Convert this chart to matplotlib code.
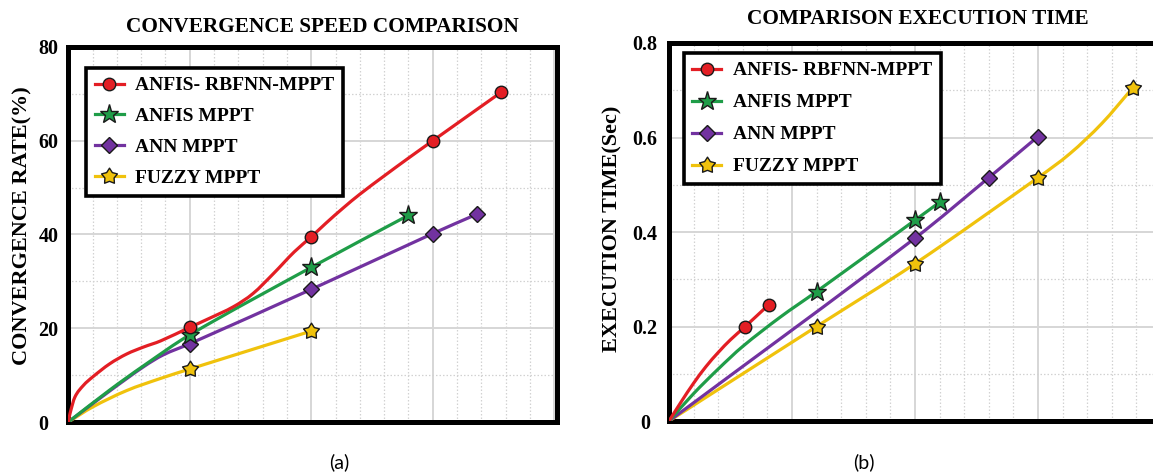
import matplotlib
matplotlib.use("Agg")
import matplotlib.pyplot as plt
from matplotlib.path import Path
from matplotlib.patches import PathPatch
from matplotlib.lines import Line2D
from matplotlib.ticker import MultipleLocator

# ---------------- data ----------------
series_names = ["ANFIS- RBFNN-MPPT", "ANFIS MPPT", "ANN MPPT", "FUZZY MPPT"]

# (a) Convergence speed: curve points and marker indices
conv_red_x = [0, 0.07, 0.27, 0.62, 1.0, 1.7, 2.4, 3.1, 3.8, 5.0, 5.8, 6.8, 7.6, 8.45, 9.3,
              10.0, 10.6, 11.3, 12.0, 13.0, 14.0, 15.0, 17.8]
conv_red_y = [0, 1.8, 5.3, 7.8, 9.6, 12.4, 14.5, 16.0, 17.3, 20.2, 22.1, 24.6, 27.4, 31.7, 36.3,
              39.5, 42.4, 45.6, 48.6, 52.5, 56.3, 60.0, 70.3]
conv_red_mk = [9, 15, 21, 22]

conv_green_x = [0, 1.7, 3.1, 5.0, 10.0, 14.0]
conv_green_y = [0, 6.8, 12.0, 18.6, 33.0, 44.1]
conv_green_mk = [3, 4, 5]

conv_purple_x = [0, 1.7, 3.1, 3.9, 5.0, 10.0, 15.0, 16.8]
conv_purple_y = [0, 6.6, 11.8, 14.3, 16.7, 28.3, 40.2, 44.3]
conv_purple_mk = [4, 5, 6, 7]

conv_yellow_x = [0, 1.0, 2.4, 3.8, 5.0, 10.0]
conv_yellow_y = [0, 3.2, 6.7, 9.3, 11.3, 19.4]
conv_yellow_mk = [4, 5]

# (b) Execution time
exec_red_x = [0, 0.5, 1.0, 1.5, 2.0, 2.5, 3.1, 4.05]
exec_red_y = [0, 0.041, 0.080, 0.115, 0.145, 0.172, 0.200, 0.246]
exec_red_mk = [6, 7]

exec_green_x = [0, 1.0, 2.0, 3.0, 4.5, 6.0, 10.0, 11.0]
exec_green_y = [0, 0.058, 0.110, 0.158, 0.219, 0.274, 0.425, 0.463]
exec_green_mk = [5, 6, 7]

exec_purple_x = [0, 10.0, 13.0, 15.0]
exec_purple_y = [0, 0.387, 0.515, 0.602]
exec_purple_mk = [1, 2, 3]

exec_yellow_x = [0, 6.0, 10.0, 15.0, 16.3, 17.6, 18.85]
exec_yellow_y = [0, 0.200, 0.333, 0.515, 0.566, 0.630, 0.705]
exec_yellow_mk = [1, 2, 3, 6]

conv_yticks = [0, 20, 40, 60, 80]
conv_yticklabels = ["0", "20", "40", "60", "80"]
exec_yticks = [0, 0.2, 0.4, 0.6, 0.8]
exec_yticklabels = ["0", "0.2", "0.4", "0.6", "0.8"]

# ---------------- style ----------------
W, H = 1153, 473
fig = plt.figure(figsize=(W / 100, H / 100), dpi=100)
fig.patch.set_facecolor("white")

colors = ["#e31e24", "#1f9d48", "#7232a0", "#f0c20c"]
fuzzy_star = Path.unit_regular_star(5, innerCircle=0.58)
markers = ["o", "*", "D", fuzzy_star]
msizes = [9, 14, 8, 12]
LW = 2.3

serif_bold = dict(family="Liberation Serif", weight="bold")


def style_axes(ax, xmax, ymax, yminor, yticks, ylabels, tick_ha, tick_pad):
    ax.set_xlim(0, xmax)
    ax.set_ylim(0, ymax)
    ax.xaxis.set_major_locator(MultipleLocator(5))
    ax.xaxis.set_minor_locator(MultipleLocator(1))
    ax.yaxis.set_minor_locator(MultipleLocator(yminor))
    ax.set_yticks(yticks)
    ax.set_yticklabels(ylabels, fontsize=14.5, **serif_bold)
    for t in ax.get_yticklabels():
        t.set_horizontalalignment(tick_ha)
    ax.tick_params(axis="x", which="both", length=0, labelbottom=False)
    ax.tick_params(axis="y", which="both", length=0, pad=tick_pad)
    ax.grid(which="major", color="#d6d6d6", lw=1.4, ls="-")
    ax.grid(which="minor", color="#d2d2d2", lw=0.9, ls=(0, (1.2, 1.6)))
    ax.set_axisbelow(True)
    for s in ax.spines.values():
        s.set_linewidth(3.6)
        s.set_color("black")


def smooth_path(x, y):
    """Smoothed line (cubic Hermite as Bezier segments) through the given points."""
    n = len(x)
    slopes = []
    for i in range(n):
        if i == 0:
            m = (y[1] - y[0]) / (x[1] - x[0])
        elif i == n - 1:
            m = (y[-1] - y[-2]) / (x[-1] - x[-2])
        else:
            m = (y[i + 1] - y[i - 1]) / (x[i + 1] - x[i - 1])
        slopes.append(m)
    verts = [(x[0], y[0])]
    codes = [Path.MOVETO]
    for i in range(n - 1):
        h = x[i + 1] - x[i]
        verts += [(x[i] + h / 3.0, y[i] + slopes[i] * h / 3.0),
                  (x[i + 1] - h / 3.0, y[i + 1] - slopes[i + 1] * h / 3.0),
                  (x[i + 1], y[i + 1])]
        codes += [Path.CURVE4] * 3
    return Path(verts, codes)


def draw(ax, xs, ys, mks):
    handles = []
    for i in range(len(xs)):
        z = 5 - i * 0.1
        patch = PathPatch(smooth_path(xs[i], ys[i]), facecolor="none", edgecolor=colors[i],
                          lw=LW, capstyle="round", joinstyle="round",
                          transform=ax.transData, zorder=z)
        ax.add_patch(patch)
        mx = [xs[i][k] for k in mks[i]]
        my = [ys[i][k] for k in mks[i]]
        ax.plot(mx, my, ls="none", marker=markers[i], markersize=msizes[i],
                markerfacecolor=colors[i], markeredgecolor="#1a1a1a",
                markeredgewidth=1.0, zorder=z + 0.05)
        handles.append(Line2D([], [], color=colors[i], lw=LW, marker=markers[i],
                              markersize=msizes[i], markerfacecolor=colors[i],
                              markeredgecolor="#1a1a1a", markeredgewidth=1.0,
                              label=series_names[i]))
    return handles


def make_legend(ax, handles, anchor, spacing):
    leg = ax.legend(handles=handles, loc="upper left", bbox_to_anchor=anchor,
                    borderaxespad=0, prop=dict(size=14, **serif_bold), fancybox=False,
                    framealpha=1, edgecolor="black", handlelength=1.5, handletextpad=0.6,
                    labelspacing=spacing, borderpad=0.45)
    leg.get_frame().set_linewidth(2.6)
    leg.set_zorder(10)
    return leg


# ---------------- (a) ----------------
ax1 = fig.add_axes([68.3 / W, (H - 422) / H, (556.7 - 68.3) / W, (422 - 47) / H])
style_axes(ax1, 20.1, 80, 10, conv_yticks, conv_yticklabels, "left", 21.5)
h1 = draw(ax1,
          [conv_red_x, conv_green_x, conv_purple_x, conv_yellow_x],
          [conv_red_y, conv_green_y, conv_purple_y, conv_yellow_y],
          [conv_red_mk, conv_green_mk, conv_purple_mk, conv_yellow_mk])
make_legend(ax1, h1, (0.036, 0.944), 0.68)

# ---------------- (b) ----------------
ax2 = fig.add_axes([669 / W, (H - 421) / H, (1161 - 669) / W, (421 - 43) / H])
style_axes(ax2, 20, 0.8, 0.1, exec_yticks, exec_yticklabels, "center", 17.3)
h2 = draw(ax2,
          [exec_red_x, exec_green_x, exec_purple_x, exec_yellow_x],
          [exec_red_y, exec_green_y, exec_purple_y, exec_yellow_y],
          [exec_red_mk, exec_green_mk, exec_purple_mk, exec_yellow_mk])
make_legend(ax2, h2, (0.0295, 0.9735), 0.74)

# ---------------- titles / labels ----------------
fig.text(322.5 / W, 1 - 27.5 / H, "CONVERGENCE SPEED COMPARISON", ha="center", va="center",
         fontsize=15.3, **serif_bold)
fig.text(918 / W, 1 - 18.5 / H, "COMPARISON EXECUTION TIME", ha="center", va="center",
         fontsize=15.3, **serif_bold)
fig.text(22.5 / W, 1 - 226 / H, "CONVERGENCE RATE(%)", rotation=90, ha="center", va="center",
         fontsize=16, **serif_bold)
fig.text(612 / W, 1 - 229 / H, "EXECUTION TIME(Sec)", rotation=90, ha="center", va="center",
         fontsize=16, **serif_bold)
fig.text(339 / W, 1 - 462 / H, "(a)", ha="center", va="center", fontsize=14, family="Lato")
fig.text(864 / W, 1 - 462 / H, "(b)", ha="center", va="center", fontsize=14, family="Lato")

fig.savefig("out.png", dpi=100)
